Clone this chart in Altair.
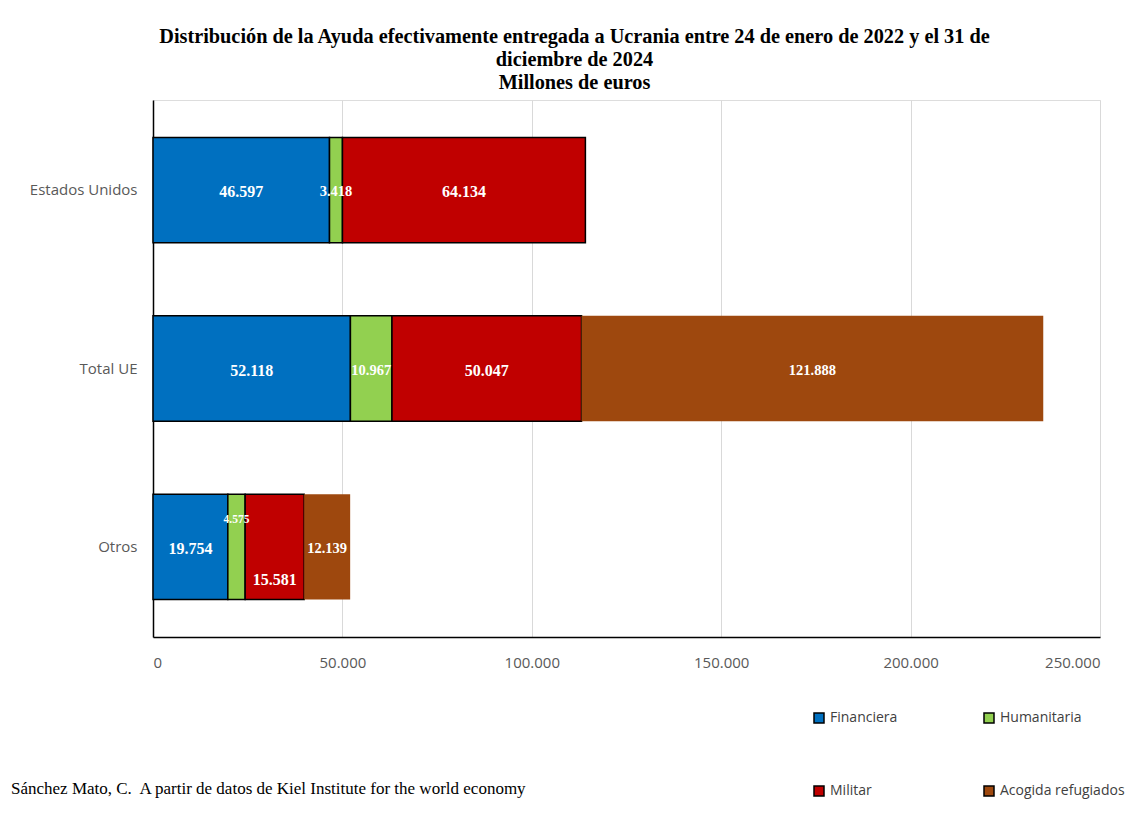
import altair as alt
import pandas as pd

# ---- data ----
paises = ["Estados Unidos", "Total UE", "Otros"]
tipos = ["Financiera", "Humanitaria", "Militar", "Acogida refugiados"]
financiera = [46597, 52118, 19754]
humanitaria = [3418, 10967, 4575]
militar = [64134, 50047, 15581]
acogida = [0, 121888, 12139]
x_ticks = [0, 50000, 100000, 150000, 200000, 250000]

colores = ["#0070C0", "#92D050", "#C00000", "#9E480E"]

# label styles (font size) per (pais, tipo)
label_size = {
    ("Estados Unidos", "Humanitaria"): 14.5,
    ("Total UE", "Humanitaria"): 14.5,
    ("Total UE", "Acogida refugiados"): 14.5,
    ("Otros", "Humanitaria"): 11.5,
    ("Otros", "Acogida refugiados"): 14.5,
}
# labels drawn above / below the bar centre
label_pos = {
    ("Otros", "Humanitaria"): "arriba",
    ("Otros", "Militar"): "abajo",
}

series = [financiera, humanitaria, militar, acogida]
rows = []
for ti, (tipo, vals) in enumerate(zip(tipos, series)):
    for pi, pais in enumerate(paises):
        v = vals[pi]
        if v == 0:
            continue
        rows.append({
            "pais": pais,
            "tipo": tipo,
            "orden": ti,
            "valor": v,
            "etiqueta": f"{v:,}".replace(",", "."),
            "fsize": label_size.get((pais, tipo), 16),
            "pos": label_pos.get((pais, tipo), "centro"),
        })
df = pd.DataFrame(rows)

AXIS_FONT = "Open Sans"
SERIF = "Liberation Serif"

x_enc = alt.X(
    "valor:Q",
    stack="zero",
    scale=alt.Scale(domain=[0, 250000], nice=False),
    axis=alt.Axis(
        values=x_ticks,
        labelExpr="replace(format(datum.value, ',d'), /,/g, '.')",
        title=None,
        grid=True,
        gridColor="#D9D9D9",
        gridWidth=1,
        domainColor="#000000",
        domainWidth=1.5,
        ticks=False,
        labelFont=AXIS_FONT,
        labelFontSize=15,
        labelColor="#595959",
        labelPadding=18,
    ),
)
y_enc = alt.Y(
    "pais:N",
    sort=paises,
    scale=alt.Scale(paddingInner=0.41, paddingOuter=0.21),
    axis=alt.Axis(
        title=None,
        ticks=False,
        domainColor="#000000",
        domainWidth=1.5,
        labelFont=AXIS_FONT,
        labelFontSize=15,
        labelColor="#595959",
        labelPadding=16,
    ),
)

bars = alt.Chart(df).mark_bar(stroke="#000000").encode(
    x=x_enc,
    y=y_enc,
    color=alt.Color(
        "tipo:N",
        sort=tipos,
        scale=alt.Scale(domain=tipos, range=colores),
        legend=alt.Legend(
            title=None,
            orient="none",
            legendX=659,
            legendY=611,
            direction="horizontal",
            columns=2,
            columnPadding=83,
            rowPadding=57,
            padding=0,
            symbolType="square",
            symbolSize=100,
            symbolStrokeColor="#000000",
            symbolStrokeWidth=1.5,
            symbolOpacity=1,
            labelFont=AXIS_FONT,
            labelFontSize=14,
            labelColor="#404040",
            labelOffset=4,
            labelLimit=200,
        ),
    ),
    order=alt.Order("orden:Q"),
    strokeWidth=alt.condition(
        "datum.tipo === 'Acogida refugiados'", alt.value(0), alt.value(1.5)
    ),
)


def label_layer(pos, dy):
    return (
        alt.Chart(df)
        .transform_stack(
            stack="valor",
            groupby=["pais"],
            as_=["x0", "x1"],
            sort=[alt.SortField("orden", order="ascending")],
        )
        .transform_calculate(mid="(datum.x0 + datum.x1) / 2")
        .transform_filter(alt.datum.pos == pos)
        .mark_text(
            font=SERIF,
            fontWeight="bold",
            color="#FFFFFF",
            baseline="middle",
            align="center",
            dy=dy,
        )
        .encode(
            x=alt.X("mid:Q"),
            y=alt.Y("pais:N", sort=paises),
            text="etiqueta:N",
            size=alt.Size("fsize:Q", scale=None, legend=None),
        )
    )


labels_c = label_layer("centro", 2)
labels_a = label_layer("arriba", -27)
labels_b = label_layer("abajo", 33)

nota = pd.DataFrame({"t": ["Sánchez Mato, C.\u00a0 A partir de datos de Kiel Institute for the world economy"]})
footnote = (
    alt.Chart(nota)
    .mark_text(font=SERIF, fontSize=17, color="#000000", align="left", baseline="middle")
    .encode(text="t:N", x=alt.value(-142), y=alt.value(689))
)

chart = (
    alt.layer(bars, labels_c, labels_a, labels_b, footnote)
    .properties(
        width=947,
        height=537,
        autosize=alt.AutoSizeParams(type="none"),
        padding={"left": 145, "top": 92, "right": 26, "bottom": 172},
        title=alt.TitleParams(
            text=[
                "Distribución de la Ayuda efectivamente entregada a Ucrania entre 24 de enero de 2022 y el 31 de",
                "diciembre de 2024",
                "Millones de euros",
            ],
            font=SERIF,
            fontSize=20.3,
            fontWeight="bold",
            color="#000000",
            anchor="middle",
            dx=-52,
            offset=7,
            lineHeight=23,
        ),
    )
    .configure_view(stroke=None)
    .configure(background="#FFFFFF")
)

chart.save("out.html", embed_options={"renderer": "svg", "actions": False})
